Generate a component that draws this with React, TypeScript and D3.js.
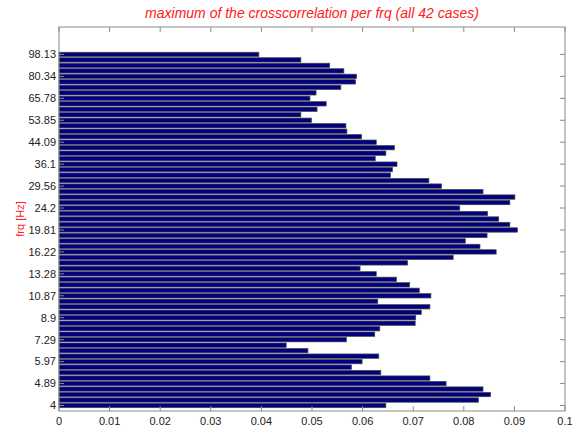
import React from "react";
import * as d3 from "d3";

// bar index 1..65 (bottom to top)
const barValues = [
  0.0646, 0.0829, 0.0853, 0.0838, 0.0765, 0.0733, 0.0636, 0.0578, 0.0599, 0.0632,
  0.0492, 0.0449, 0.0568, 0.0624, 0.0634, 0.0704, 0.0705, 0.0716, 0.0733, 0.063,
  0.0735, 0.0712, 0.0693, 0.0667, 0.0627, 0.0595, 0.0689, 0.0779, 0.0864, 0.0832,
  0.0803, 0.0846, 0.0906, 0.0891, 0.0869, 0.0847, 0.0792, 0.0891, 0.0901, 0.0838,
  0.0756, 0.0731, 0.0655, 0.0659, 0.0668, 0.0625, 0.0646, 0.0663, 0.0627, 0.0598,
  0.0569, 0.0567, 0.0499, 0.0478, 0.051, 0.0528, 0.0496, 0.0508, 0.0557, 0.0586,
  0.0588, 0.0563, 0.0535, 0.0478, 0.0395,
];

const yTickIndex = [1, 5, 9, 13, 17, 21, 25, 29, 33, 37, 41, 45, 49, 53, 57, 61, 65];
const yTickLabels = [
  "4", "4.89", "5.97", "7.29", "8.9", "10.87", "13.28", "16.22", "19.81",
  "24.2", "29.56", "36.1", "44.09", "53.85", "65.78", "80.34", "98.13",
];
const xTicks = [0, 0.01, 0.02, 0.03, 0.04, 0.05, 0.06, 0.07, 0.08, 0.09, 0.1];

const title = "maximum of the crosscorrelation per frq (all 42 cases)";
const yLabel = "frq [Hz]";

export default function App() {
  const W = 576;
  const H = 430;
  const margin = { top: 27, right: 11, bottom: 19, left: 59 };
  const x = d3.scaleLinear().domain([0, 0.1]).range([margin.left, W - margin.right]);
  const y = d3.scaleLinear().domain([0, 70]).range([H - margin.bottom, margin.top]);
  const pitch = y(0) - y(1);
  const bh = pitch * 0.8;
  const font = "Liberation Sans, Arial, sans-serif";
  const axisColor = "#8a8a8a";
  const textColor = "#222";
  const tickLen = 5;
  const x0 = x(0);
  const x1 = x(0.1);
  const yTop = y(70);
  const yBot = y(0);

  return (
    <svg
      width={W}
      height={H}
      style={{ position: "absolute", left: 0, top: 0, background: "#fff" }}
      fontFamily={font}
    >
      {barValues.map((v, i) => (
        <rect
          key={i}
          x={x(0)}
          y={y(i + 1) - bh / 2}
          width={x(v) - x(0)}
          height={bh}
          fill="#000080"
          stroke="#4a4a4a"
          strokeWidth={0.7}
        />
      ))}

      {/* box */}
      <rect x={x0} y={yTop} width={x1 - x0} height={yBot - yTop} fill="none" stroke={axisColor} strokeWidth={1} />

      {/* x ticks */}
      {xTicks.map((t) => (
        <g key={t}>
          <line x1={x(t)} x2={x(t)} y1={yBot} y2={yBot - tickLen} stroke={axisColor} />
          <line x1={x(t)} x2={x(t)} y1={yTop} y2={yTop + tickLen} stroke={axisColor} />
          <text x={x(t)} y={yBot + 14} textAnchor="middle" fontSize={11} fill={textColor}>
            {String(t)}
          </text>
        </g>
      ))}

      {/* y ticks */}
      {yTickIndex.map((idx, i) => (
        <g key={idx}>
          <line x1={x0} x2={x0 + tickLen} y1={y(idx)} y2={y(idx)} stroke={axisColor} />
          <line x1={x1} x2={x1 - tickLen} y1={y(idx)} y2={y(idx)} stroke={axisColor} />
          <text x={x0 - 3} y={y(idx)} dy="0.35em" textAnchor="end" fontSize={11} fill={textColor}>
            {yTickLabels[i]}
          </text>
        </g>
      ))}

      <text
        x={(x0 + x1) / 2}
        y={18}
        textAnchor="middle"
        fontSize={14}
        fontStyle="italic"
        fill="#ff2020"
      >
        {title}
      </text>
      <text
        transform={`translate(24,${(yTop + yBot) / 2}) rotate(-90)`}
        textAnchor="middle"
        fontSize={11}
        fill="#ff2020"
      >
        {yLabel}
      </text>
    </svg>
  );
}
